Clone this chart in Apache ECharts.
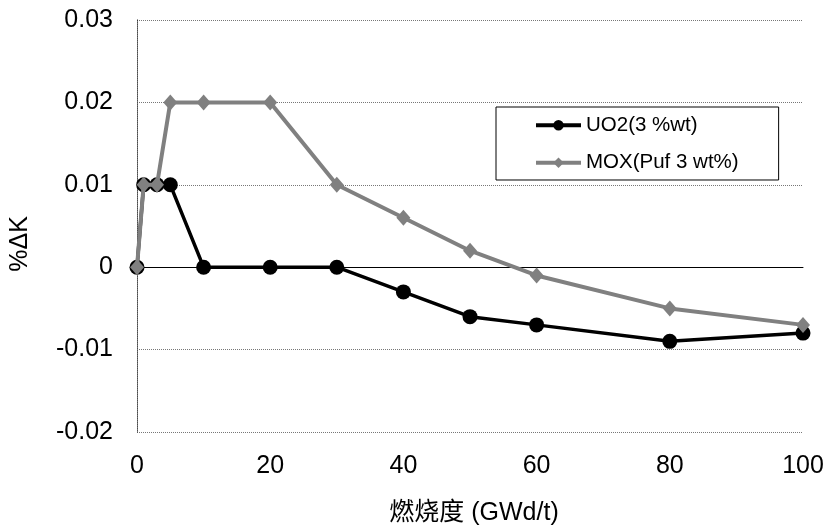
<!DOCTYPE html>
<html>
<head>
<meta charset="utf-8">
<script src="https://cdn.jsdelivr.net/npm/echarts@6/dist/echarts.min.js"></script>
<style>html,body{margin:0;padding:0;background:#fff;}#c{width:829px;height:531px;}</style>
</head>
<body>
<div id="c"></div>
<script>
const burnup = [0, 1, 3, 5, 10, 20, 30, 40, 50, 60, 80, 100];
const uo2 = [0, 0.01, 0.01, 0.01, 0, 0, 0, -0.003, -0.006, -0.007, -0.009, -0.008];
const mox = [0, 0.01, 0.01, 0.02, 0.02, 0.02, 0.01, 0.006, 0.002, -0.001, -0.005, -0.007];
const seriesNames = ['UO2(3 %wt)', 'MOX(Puf 3 wt%)'];
const xName = '燃烧度 (GWd/t)';
const yName = '%ΔK';

const font = 'Liberation Sans, Arial, Noto Sans CJK SC, sans-serif';
const chart = echarts.init(document.getElementById('c'), null, {renderer: 'canvas'});
chart.setOption({
  animation: false,
  backgroundColor: '#fff',
  textStyle: {fontFamily: font},
  grid: {left: 137, right: 26, top: 20, bottom: 99, containLabel: false},
  legend: {
    orient: 'vertical', left: 496, top: 107,
    padding: [8, 40, 7, 38], itemGap: 17,
    itemWidth: 45, itemHeight: 13,
    borderColor: '#000', borderWidth: 1, backgroundColor: '#fff',
    textStyle: {fontSize: 20.5, color: '#000', fontFamily: font},
    data: [
      {name: seriesNames[0], lineStyle: {width: 4, color: '#000'}},
      {name: seriesNames[1], lineStyle: {width: 4, color: '#808080'}}
    ]
  },
  xAxis: [{
    type: 'value', min: 0, max: 100, interval: 20,
    name: xName, nameLocation: 'middle', nameGap: 69,
    nameTextStyle: {fontSize: 25, color: '#000', fontFamily: font, padding: [0, 0, 0, 8]},
    axisLine: {show: false, onZero: false}, axisTick: {show: false},
    axisLabel: {fontSize: 25, color: '#000', margin: 22},
    splitLine: {show: false}
  }, {
    type: 'value', min: 0, max: 100, interval: 20, position: 'bottom',
    axisLine: {show: true, onZero: true, lineStyle: {color: '#000', width: 1}},
    axisTick: {show: false}, axisLabel: {show: false}, splitLine: {show: false}
  }],
  yAxis: [{
    type: 'value', min: -0.02, max: 0.03, interval: 0.01,
    name: yName, nameLocation: 'middle', nameGap: 104,
    nameTextStyle: {fontSize: 25, color: '#000', fontFamily: font, padding: [0, 36, 0, 0]},
    axisLine: {show: true, lineStyle: {color: '#000', width: 1}},
    axisTick: {show: false},
    axisLabel: {fontSize: 25, color: '#000', margin: 24},
    splitLine: {show: true, lineStyle: {color: '#777', type: 'dotted', width: 1}}
  }, {
    type: 'value', min: -0.02, max: 0.03, interval: 0.01, position: 'right',
    axisLine: {show: true, lineStyle: {color: '#777', type: 'dotted', width: 1}},
    axisTick: {show: false}, axisLabel: {show: false}, splitLine: {show: false}
  }],
  series: [{
    name: seriesNames[0], type: 'line', xAxisIndex: 0, yAxisIndex: 0,
    data: burnup.map((b, i) => [b, uo2[i]]),
    symbol: 'circle', symbolSize: 15,
    lineStyle: {color: '#000', width: 3.5},
    itemStyle: {color: '#000'},
    z: 3
  }, {
    name: seriesNames[1], type: 'line', xAxisIndex: 0, yAxisIndex: 0,
    data: burnup.map((b, i) => [b, mox[i]]),
    symbol: 'diamond', symbolSize: [14, 16],
    lineStyle: {color: '#808080', width: 4},
    itemStyle: {color: '#808080'},
    z: 4
  }]
});
</script>
</body>
</html>
